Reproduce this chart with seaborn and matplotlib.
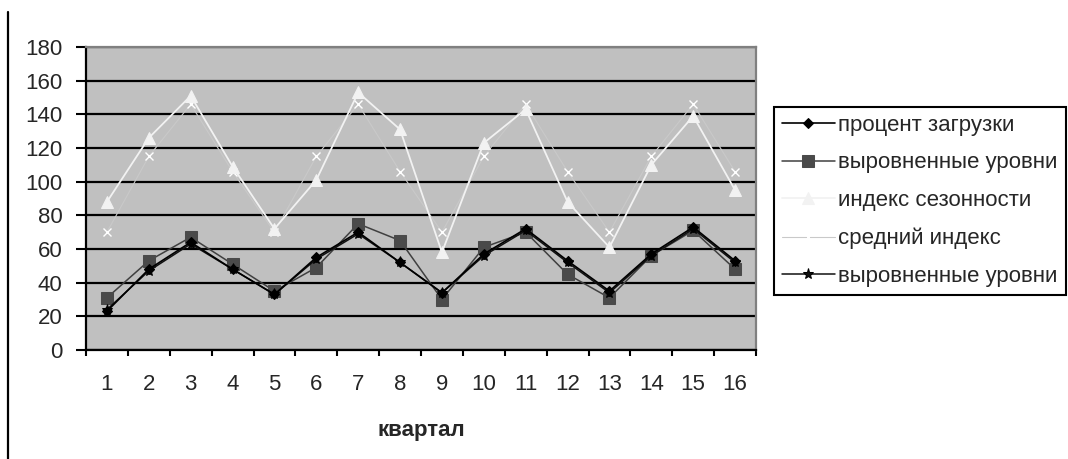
import numpy as np
import pandas as pd
import seaborn as sns
import matplotlib.pyplot as plt
from matplotlib.lines import Line2D

# quarters 1..16
quarters = list(range(1, 17))

# values
load_pct = [23, 48, 64, 48, 33, 55, 70, 52, 34, 57, 72, 53, 35, 57, 73, 53]
levels_sq = [31, 53, 67, 51, 35, 49, 75, 65, 30, 61, 70, 45, 31, 56, 71, 48]
season_idx = [88, 126, 151, 109, 72, 101, 153, 131, 58, 123, 143, 88, 61, 110, 139, 95]
mean_idx = [70, 115, 146, 106, 70, 115, 146, 106, 70, 115, 146, 106, 70, 115, 146, 106]
levels_star = [24, 47, 63, 48, 33, 54, 69, 52, 34, 56, 71, 52, 34, 56, 72, 52]

labels = ["процент загрузки", "выровненные уровни", "индекс сезонности",
          "средний индекс", "выровненные уровни"]
y_ticks = list(range(0, 181, 20))

sns.set_style("white")
plt.rcParams['font.family'] = ['Liberation Sans', 'DejaVu Sans']

fig = plt.figure(figsize=(10.68, 4.59), dpi=100)
ax = fig.add_axes([86 / 1068, 1 - 350 / 459, 670 / 1068, 303 / 459])
ax.set_facecolor("#c0c0c0")

ax.set_ylim(0, 180)
ax.set_xlim(0.5, 16.5)
ax.set_yticks(y_ticks)
ax.set_yticklabels([str(v) for v in y_ticks], fontsize=16)
ax.yaxis.grid(True, color="black", linewidth=1.6)
ax.set_axisbelow(True)

# series
sns.lineplot(x=quarters, y=mean_idx, ax=ax, color="#c9c9c9", linewidth=0.8,
             marker="x", markersize=6, markeredgewidth=1.0, label=labels[3], zorder=2)
sns.lineplot(x=quarters, y=season_idx, ax=ax, color="#f2f2f2", linewidth=1.3,
             marker="^", markersize=9, markeredgecolor="#f2f2f2", label=labels[2], zorder=3)
sns.lineplot(x=quarters, y=levels_sq, ax=ax, color="#404040", linewidth=1.1,
             marker="s", markersize=8, markerfacecolor="#4a4a4a", markeredgecolor="#4a4a4a",
             label=labels[1], zorder=4)
sns.lineplot(x=quarters, y=levels_star, ax=ax, color="#111111", linewidth=1.1,
             marker="*", markersize=8, markeredgecolor="black", label=labels[4], zorder=5)
sns.lineplot(x=quarters, y=load_pct, ax=ax, color="black", linewidth=1.2,
             marker="D", markersize=5.5, markeredgecolor="black", label=labels[0], zorder=6)

# x axis: ticks between categories, labels at category centres
ax.set_xticks(np.arange(0.5, 17, 1))
ax.set_xticklabels([])
ax.set_xticks(quarters, minor=True)
ax.set_xticklabels([str(q) for q in quarters], minor=True, fontsize=16)
ax.tick_params(axis="x", which="major", direction="out", length=4, width=1.5,
               color="black", bottom=True)
ax.tick_params(axis="x", which="minor", length=0, pad=17)
ax.tick_params(axis="y", direction="out", length=7, width=1.5, color="black",
               left=True, pad=10)
ax.set_xlabel("квартал", fontsize=16, fontweight="bold", labelpad=18)
ax.set_ylabel("")

for side in ("left", "bottom"):
    ax.spines[side].set_color("black")
    ax.spines[side].set_linewidth(1.6)
for side in ("top", "right"):
    ax.spines[side].set_color("#808080")
    ax.spines[side].set_linewidth(1.6)

# legend in the original order
handles, labs = ax.get_legend_handles_labels()
order = [4, 2, 1, 0, 3]
leg = ax.legend([handles[i] for i in order], [labs[i] for i in order],
                loc="upper left", bbox_to_anchor=(774 / 1068, 1 - 107 / 459),
                bbox_transform=fig.transFigure, borderaxespad=0, fontsize=16,
                frameon=True, fancybox=False, edgecolor="black", framealpha=1,
                handlelength=2.4, handletextpad=0.15, labelspacing=0.75, borderpad=0.35)
leg.get_frame().set_linewidth(1.5)

# frame line on the left edge of the picture
fig.add_artist(Line2D([7.5 / 1068, 7.5 / 1068], [0, 1 - 12 / 459],
                      transform=fig.transFigure, color="black", linewidth=1.6))

fig.savefig("out.png", dpi=100, facecolor="white")
